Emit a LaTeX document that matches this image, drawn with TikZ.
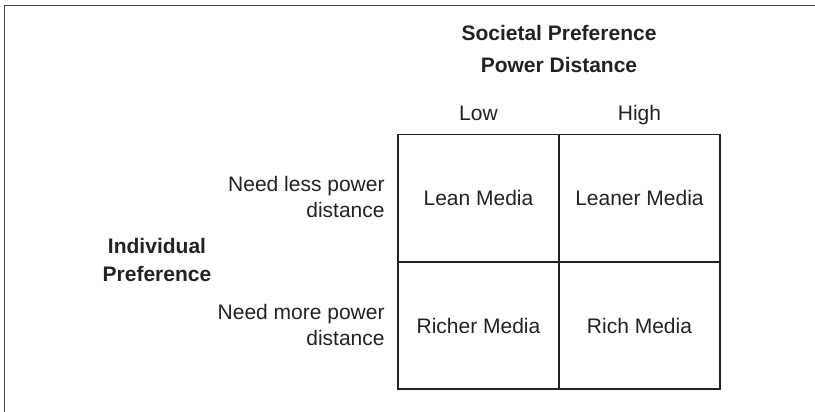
\documentclass[tikz,border=0pt]{standalone}
\usepackage{fontspec}
\setmainfont{Liberation Sans}
\definecolor{ink}{HTML}{222222}
\definecolor{frame}{HTML}{444444}
\begin{document}
\begin{tikzpicture}[x=0.5pt, y=-0.5pt, every node/.style={text=ink, font=\fontsize{10.5}{13}\selectfont},
    cell/.style={draw=ink, line width=0.75pt, minimum width=80.5pt, minimum height=63.5pt, inner sep=0pt},
    rowlab/.style={anchor=east, align=right, inner sep=0pt},
    heading/.style={font=\fontsize{10.5}{13.75}\selectfont\bfseries, align=center}]
        \useasboundingbox (0,0) rectangle (815,412);

        % Frame (top and left only)
        \draw[frame, line width=0.75pt] (815,5.5) -- (4.5,5.5) -- (4.5,412);

        % Column titles
        \node[heading] (soc) at (559,33) {Societal Preference};
        \node[heading] (pd) at (559,65) {Power Distance};
        \node[anchor=base] (low) at (478.5,120) {Low};
        \node[anchor=base] (high) at (639.5,120) {High};

        % Cells
        \node[cell] (lean) at (478.5,198) {Lean Media};
        \node[cell] (leaner) at (639.5,198) {Leaner Media};
        \node[cell] (richer) at (478.5,325.5) {Richer Media};
        \node[cell] (rich) at (639.5,325.5) {Rich Media};

        % Row labels
        \node[rowlab] (less) at (385,197) {Need less power\\distance};
        \node[rowlab] (more) at (385,324.5) {Need more power\\distance};
        \node[heading] (ind) at (157,260) {Individual\\Preference};
    \end{tikzpicture}
\end{document}
